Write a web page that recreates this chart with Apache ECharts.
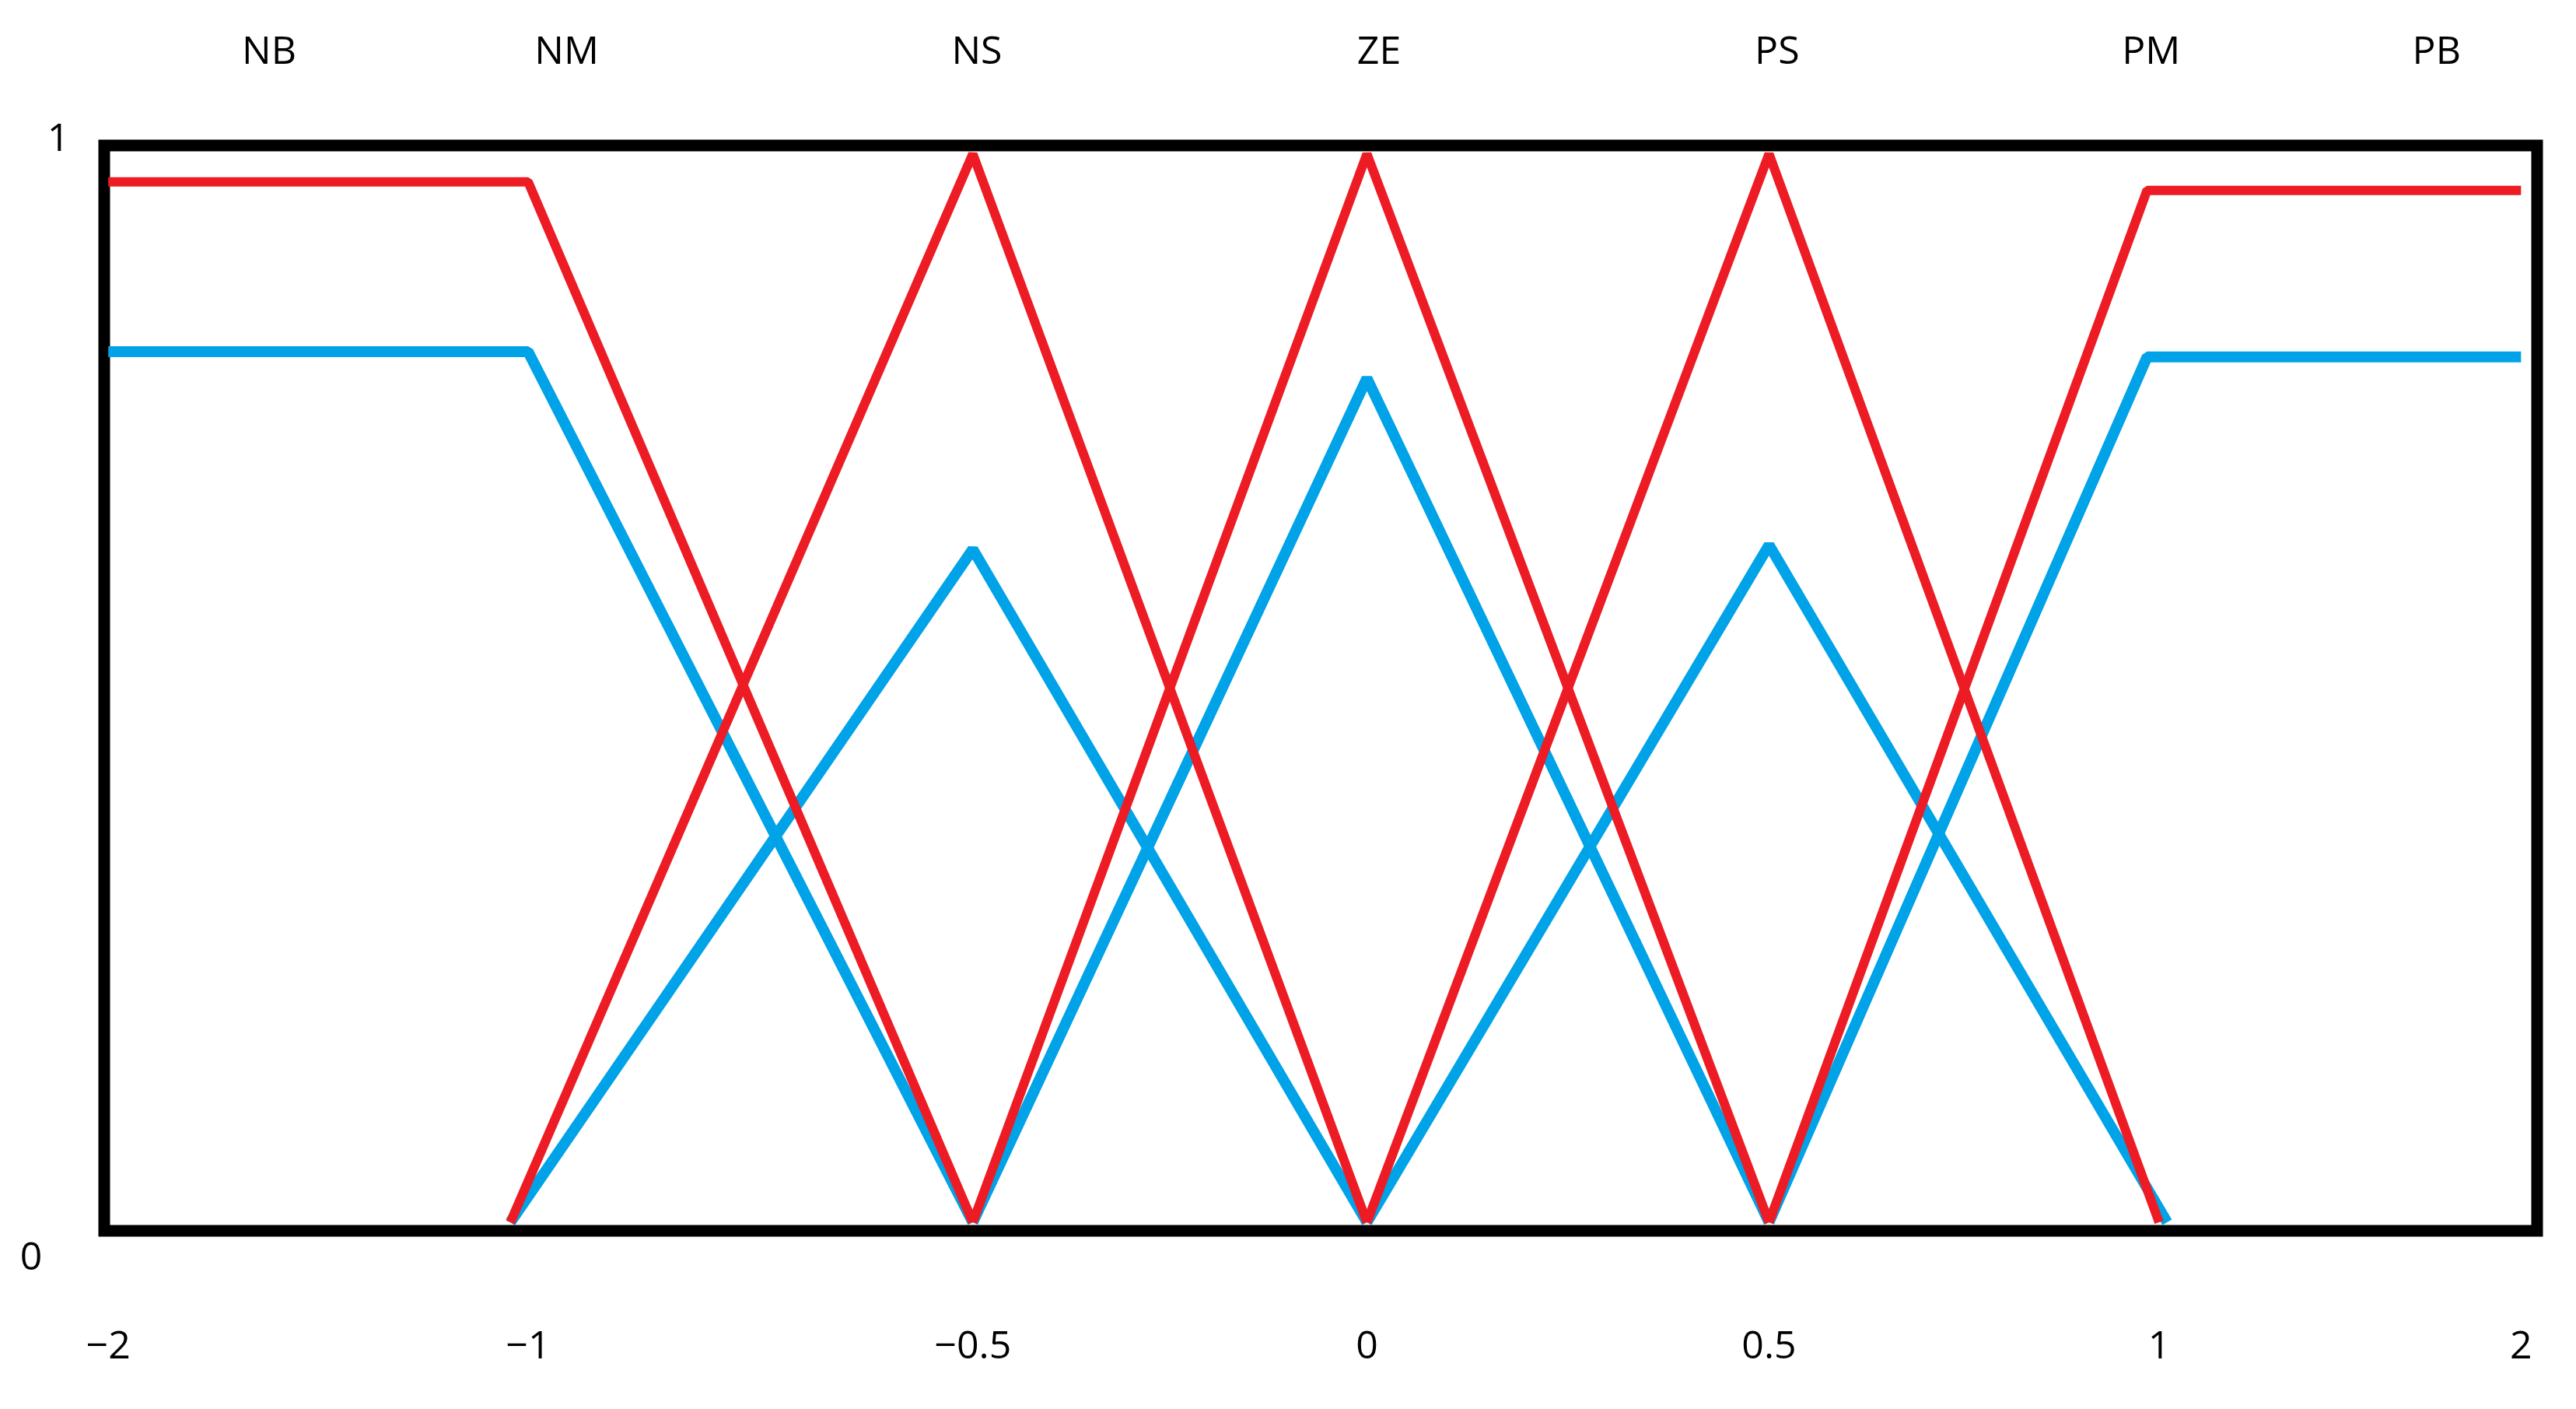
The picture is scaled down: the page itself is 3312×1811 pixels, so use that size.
<!DOCTYPE html>
<html>
<head>
<meta charset="utf-8">
<script src="https://cdn.jsdelivr.net/npm/echarts@6/dist/echarts.min.js"></script>
<style>html,body{margin:0;padding:0;background:#fff}#chart{width:3312px;height:1811px}</style>
</head>
<body>
<div id="chart"></div>
<script>
// tick labels and where they sit on the drawn scale (the original is not quite evenly spaced)
var tickLabels = ['\u22122', '\u22121', '\u22120.5', '0', '0.5', '1', '2'];
var tickPos = [0, 1.044, 2.15, 3.13, 4.13, 5.1, 6];
var setNames = ['NB', 'NM', 'NS', 'ZE', 'PS', 'PM', 'PB'];
var setNamePos = [0.4, 1.14, 2.16, 3.16, 4.15, 5.08, 5.79];

// red membership functions
var redNB = [[0, 0.974], [1.044, 0.974], [2.15, 0]];
var redNS = [[1.0, 0], [2.15, 1], [3.13, 0]];
var redZE = [[2.15, 0], [3.13, 1], [4.13, 0]];
var redPS = [[3.13, 0], [4.13, 1], [5.1, 0]];
var redPB = [[4.13, 0], [5.07, 0.966], [6, 0.966]];
// blue membership functions
var blueNB = [[0, 0.815], [1.044, 0.815], [2.15, 0]];
var blueNS = [[1.0, 0], [2.15, 0.63], [3.13, 0]];
var blueZE = [[2.15, 0], [3.13, 0.79], [4.13, 0]];
var bluePS = [[3.13, 0], [4.13, 0.634], [5.12, 0]];
var bluePB = [[4.13, 0], [5.07, 0.81], [6, 0.81]];

var red = '#ED1C24', blue = '#00A2E8';
var chart = echarts.init(document.getElementById('chart'));

function line(data, color, w) {
    return {
        type: 'line', data: data, symbol: 'none', animation: false,
        lineStyle: { color: color, width: w }
    };
}

var series = [];
[blueNB, blueNS, blueZE, bluePS, bluePB].forEach(function (d) { series.push(line(d, blue, 14)); });
[redNB, redNS, redZE, redPS, redPB].forEach(function (d) { series.push(line(d, red, 12)); });

chart.setOption({
    backgroundColor: '#fff',
    grid: { left: 134, right: 50, top: 187, bottom: 229, show: true, borderColor: '#000', borderWidth: 15, backgroundColor: 'transparent' },
    xAxis: {
        type: 'value', min: -0.01, max: 6.04,
        splitLine: { show: false }, axisLine: { show: false }, axisTick: { show: false },
        axisLabel: { show: false }
    },
    yAxis: {
        type: 'value', min: -0.008, max: 1.008,
        splitLine: { show: false }, axisLine: { show: false }, axisTick: { show: false },
        axisLabel: { show: false }
    },
    series: series
});

var font = { fontSize: 50, fontFamily: 'Open Sans', fill: '#000', textAlign: 'center', textVerticalAlign: 'middle' };
function txt(s, x, y) {
    return { type: 'text', x: x, y: y, style: Object.assign({ text: s }, font) };
}
var texts = [];
setNames.forEach(function (n, i) {
    var p = chart.convertToPixel({ gridIndex: 0 }, [setNamePos[i], 1]);
    texts.push(txt(n, p[0], 68));
});
tickLabels.forEach(function (n, i) {
    var p = chart.convertToPixel({ gridIndex: 0 }, [tickPos[i], 0]);
    texts.push(txt(n, p[0], 1732));
});
texts.push(txt('1', 75, 180));
texts.push(txt('0', 40, 1618));
chart.setOption({ graphic: texts });
</script>
</body>
</html>
